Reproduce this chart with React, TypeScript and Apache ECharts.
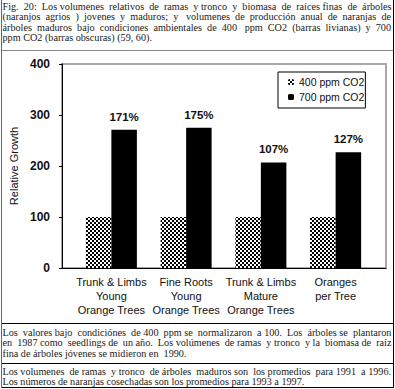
import React, { useEffect, useRef } from "react";
import * as echarts from "echarts";

const categories = [
  "Trunk & Limbs\nYoung\nOrange Trees",
  "Fine Roots\nYoung\nOrange Trees",
  "Trunk & Limbs\nMature\nOrange Trees",
  "Oranges\nper Tree",
];
const co2_400 = [100, 100, 100, 100];
const co2_700 = [271, 275, 207, 227];
const pctLabels = ["171%", "175%", "107%", "127%"];
const seriesNames = ["400 ppm CO2", "700 ppm CO2"];
const yAxisName = "Relative Growth";

const captionLines = [
  "Fig. 20: Los volumenes relativos de ramas y tronco y biomasa de raíces finas de árboles",
  "(naranjos agrios ) jovenes y maduros; y  volumenes de producción anual de naranjas de",
  "árboles maduros bajo condiciones ambientales de 400  ppm CO2 (barras livianas) y 700",
  "ppm CO2 (barras obscuras) (59, 60).",
];
const note1Lines = [
  "Los valores bajo condiciónes de 400 ppm se normalizaron a 100. Los árboles se plantaron",
  "en 1987 como seedlings de un año. Los volúmenes de ramas y tronco y la biomasa de raíz",
  "fina de árboles jóvenes se midieron en  1990.",
];
const note2Lines = [
  "Los volumenes de ramas y tronco de árboles maduros son los promedios para 1991 a 1996.",
  "Los números de naranjas cosechadas son los promedios para 1993 a 1997.",
];

const SERIF = '"Liberation Serif", "Times New Roman", serif';
const SANS = '"Liberation Sans", Arial, sans-serif';
const TEXT_SIZE = 10.5;
const X0 = 2.5;

function makeChecker() {
  const c = document.createElement("canvas");
  c.width = 4;
  c.height = 4;
  const ctx = c.getContext("2d")!;
  ctx.fillStyle = "#ffffff";
  ctx.fillRect(0, 0, 4, 4);
  ctx.fillStyle = "#000000";
  ctx.fillRect(0, 0, 2, 2);
  ctx.fillRect(2, 2, 2, 2);
  return c;
}

const measureCanvas = document.createElement("canvas");
function measure(text: string, font: string) {
  const ctx = measureCanvas.getContext("2d")!;
  ctx.font = font;
  return ctx.measureText(text).width;
}

// Justify a line by adding spaces between words, then fine-stretch to the target end.
function justify(t: string, target: number, g: number, font: string) {
  const words = t.split(" ");
  const gaps = words.length - 1;
  const sw = measure(" ", font) * g;
  let w = measure(t, font) * g;
  let extra = Math.max(0, Math.round((target - w) / sw));
  const add = new Array(gaps).fill(0);
  // spread extra spaces evenly
  for (let k = 0; k < extra; k++) {
    const idx = Math.floor(((k + 0.5) * gaps) / extra) % Math.max(gaps, 1);
    add[idx] += 1;
  }
  let out = words[0];
  for (let i = 1; i < words.length; i++) out += " ".repeat(1 + add[i - 1]) + words[i];
  return out;
}

function textBlock(
  lines: string[],
  ys: number[],
  ends: (number | null)[],
  g: number
) {
  const font = `${TEXT_SIZE}px ${SERIF}`;
  return lines.map((t, i) => {
    let text = t;
    let s = g;
    const end = ends[i];
    if (end !== null) {
      text = justify(t, end - X0, g, font);
      s = (end - X0) / measure(text, font);
    }
    return {
      type: "text",
      x: X0,
      y: ys[i],
      scaleX: s,
      silent: true,
      style: {
        text,
        font,
        fill: "#1a1a1a",
        textVerticalAlign: "middle",
        verticalAlign: "middle",
      },
    };
  });
}

function hline(y: number, color = "#000", x1 = 1, x2 = 394) {
  return {
    type: "line",
    silent: true,
    shape: { x1, y1: y, x2, y2: y },
    style: { stroke: color, lineWidth: 1 },
  };
}
function vline(x: number, y1: number, y2: number, color = "#000") {
  return {
    type: "line",
    silent: true,
    shape: { x1: x, y1, x2: x, y2 },
    style: { stroke: color, lineWidth: 1 },
  };
}

export default function App() {
  const ref = useRef<HTMLDivElement>(null);
  useEffect(() => {
    if (!ref.current) return;
    const chart = echarts.init(ref.current, undefined, { renderer: "svg" });
    const checker = makeChecker();
    const hatch: any = { image: checker, repeat: "repeat", imageWidth: 4, imageHeight: 4 };

    // common horizontal glyph scale derived from the (unjustified) last lines
    const font = `${TEXT_SIZE}px ${SERIF}`;
    const lastFits = [
      (142 - X0) / measure(captionLines[3], font),
      (176 - X0) / measure(note1Lines[2], font),
      (343 - X0) / measure(note2Lines[1], font),
    ];
    const g = lastFits.reduce((a, b) => a + b, 0) / lastFits.length;

    const graphics: any[] = [
      ...textBlock(captionLines, [6, 16.5, 27, 37.5], [392, 392, 392, null], g),
      ...textBlock(note1Lines, [332, 342.5, 353], [392, 392, null], g),
      ...textBlock(note2Lines, [371, 381.5], [392, null], g),
      hline(50.5, "#888"),
      hline(323.5),
      hline(363.5),
      hline(387.5),
      vline(1.5, 0, 388, "#666"),
      vline(393.5, 0, 388),
    ];

    chart.setOption({
      animation: false,
      backgroundColor: "#ffffff",
      textStyle: { fontFamily: SANS },
      grid: [
        {
          left: 62,
          top: 64,
          width: 324,
          height: 204,
          show: true,
          borderColor: "#a8a8a8",
          borderWidth: 2,
          backgroundColor: "transparent",
        },
        { left: 74, top: 64, width: 299, height: 204 },
      ],
      legend: {
        orient: "vertical",
        left: 278,
        top: 72,
        padding: [3, 1, 4, 10],
        itemGap: 1,
        itemWidth: 6,
        itemHeight: 6,
        borderColor: "#000",
        borderWidth: 1,
        backgroundColor: "#fff",
        textStyle: { fontFamily: SANS, fontSize: 10.5, color: "#111", lineHeight: 14 },
        data: seriesNames,
      },
      xAxis: [
        {
          type: "value",
          gridIndex: 0,
          min: 0,
          max: 1,
          axisLine: { show: true, lineStyle: { color: "#000", width: 1 } },
          axisTick: { show: false },
          axisLabel: { show: false },
          splitLine: { show: false },
        },
        {
          type: "category",
          gridIndex: 1,
          data: categories,
          axisLine: { show: false },
          axisTick: { show: false },
          axisLabel: {
            interval: 0,
            margin: 7,
            fontFamily: SANS,
            fontSize: 11,
            lineHeight: 14,
            color: "#111",
          },
        },
      ],
      yAxis: [
        {
          type: "value",
          gridIndex: 0,
          min: 0,
          max: 400,
          interval: 100,
          name: yAxisName,
          nameLocation: "middle",
          nameRotate: 90,
          nameGap: 39,
          nameTextStyle: { fontFamily: SANS, fontSize: 11, color: "#111" },
          axisLine: { show: true, lineStyle: { color: "#000", width: 1 } },
          axisTick: { show: true, length: 3, lineStyle: { color: "#000" } },
          axisLabel: {
            margin: 12,
            fontFamily: SANS,
            fontSize: 12,
            fontWeight: "bold",
            color: "#111",
          },
          splitLine: { show: false },
        },
        {
          type: "value",
          gridIndex: 1,
          min: 0,
          max: 400,
          interval: 100,
          show: false,
          splitLine: { show: false },
        },
      ],
      series: [
        {
          name: seriesNames[0],
          type: "bar",
          xAxisIndex: 1,
          yAxisIndex: 1,
          data: co2_400,
          barWidth: 25.5,
          barGap: "0%",
          itemStyle: { color: hatch },
        },
        {
          name: seriesNames[1],
          type: "bar",
          xAxisIndex: 1,
          yAxisIndex: 1,
          data: co2_700,
          barWidth: 25.5,
          barGap: "0%",
          itemStyle: { color: "#000" },
          label: {
            show: true,
            position: "top",
            distance: 7,
            fontFamily: SANS,
            fontSize: 11.5,
            fontWeight: "bold",
            color: "#111",
            formatter: (p: any) => pctLabels[p.dataIndex],
          },
        },
      ],
      graphic: graphics,
    });
    return () => chart.dispose();
  }, []);
  return (
    <div
      ref={ref}
      style={{ position: "fixed", left: 0, top: 0, width: 395, height: 389 }}
    />
  );
}
